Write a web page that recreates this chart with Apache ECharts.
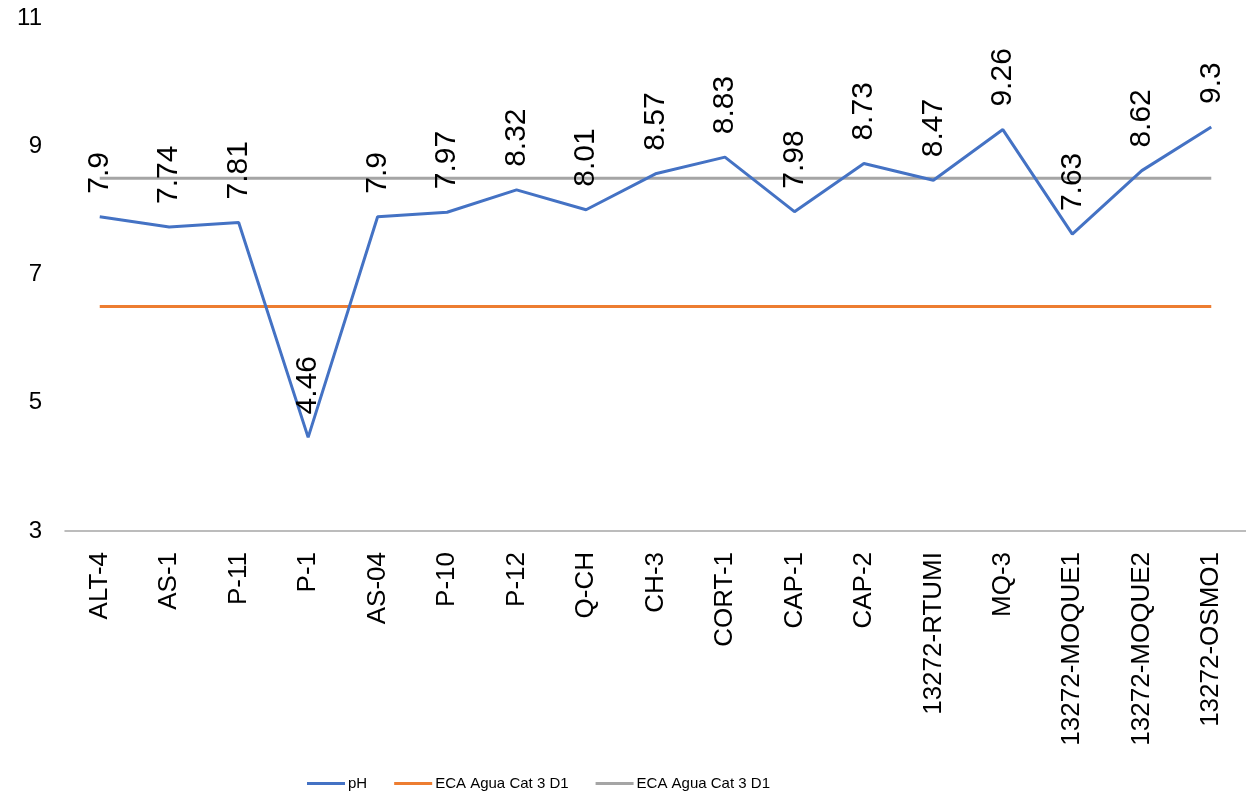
<!DOCTYPE html>
<html>
<head>
<meta charset="utf-8">
<title>pH</title>
<script src="https://cdn.jsdelivr.net/npm/echarts@6/dist/echarts.min.js"></script>
<style>
  html, body { margin: 0; padding: 0; background: #fff; }
  #chart { width: 1246px; height: 801px; }
</style>
</head>
<body>
<div id="chart"></div>
<script>
// stations and values
const stations = ['ALT-4', 'AS-1', 'P-11', 'P-1', 'AS-04', 'P-10', 'P-12', 'Q-CH', 'CH-3', 'CORT-1',
  'CAP-1', 'CAP-2', '13272-RTUMI', 'MQ-3', '13272-MOQUE1', '13272-MOQUE2', '13272-OSMO1']
const phValues = [7.9, 7.74, 7.81, 4.46, 7.9, 7.97, 8.32, 8.01, 8.57, 8.83, 7.98, 8.73, 8.47, 9.26, 7.63, 8.62, 9.3]
const ecaMin = stations.map(() => 6.5)
const ecaMax = stations.map(() => 8.5)
const yTicks = [3, 5, 7, 9, 11]

const font = "'Liberation Sans', Arial, sans-serif"
const colors = {
  ph: '#4472C4',
  min: '#ED7D31',
  max: '#A5A5A5'
}

const chart = echarts.init(document.getElementById('chart'))
chart.setOption({
  animation: false,
  textStyle: { fontFamily: font },
  grid: {
    left: 65,
    right: -6,
    top: 18,
    bottom: 270
  },
  legend: {
    left: 302,
    bottom: 5,
    icon: 'rect',
    itemWidth: 38,
    itemHeight: 3,
    itemGap: 27,
    textStyle: { fontFamily: font, fontSize: 15, color: '#000', padding: [0, 0, 0, -2] },
    data: ['pH', 'ECA Agua Cat 3 D1', 'ECA Agua Cat 3 D1 ']
  },
  xAxis: {
    type: 'category',
    data: stations,
    axisTick: { show: false },
    axisLine: { lineStyle: { color: '#A6A6A6', width: 1.5 } },
    axisLabel: {
      rotate: 90,
      interval: 0,
      margin: 21,
      fontFamily: font,
      fontSize: 26,
      color: '#000'
    }
  },
  yAxis: {
    type: 'value',
    min: yTicks[0],
    max: yTicks[yTicks.length - 1],
    interval: 2,
    splitLine: { show: false },
    axisLine: { show: false },
    axisTick: { show: false },
    axisLabel: {
      margin: 23,
      fontFamily: font,
      fontSize: 24,
      color: '#000'
    }
  },
  series: [
    {
      name: 'pH',
      type: 'line',
      data: phValues,
      symbol: 'circle',
      symbolSize: 0,
      showSymbol: true,
      z: 3,
      lineStyle: { color: colors.ph, width: 3 },
      itemStyle: { color: colors.ph },
      label: {
        show: true,
        position: 'top',
        distance: 23,
        rotate: 90,
        align: 'left',
        verticalAlign: 'middle',
        fontFamily: font,
        fontSize: 30,
        color: '#000'
      }
    },
    {
      name: 'ECA Agua Cat 3 D1',
      type: 'line',
      data: ecaMin,
      showSymbol: false,
      z: 2,
      lineStyle: { color: colors.min, width: 3 },
      itemStyle: { color: colors.min }
    },
    {
      name: 'ECA Agua Cat 3 D1 ',
      type: 'line',
      data: ecaMax,
      showSymbol: false,
      z: 2,
      lineStyle: { color: colors.max, width: 3 },
      itemStyle: { color: colors.max }
    }
  ]
})
</script>
</body>
</html>
